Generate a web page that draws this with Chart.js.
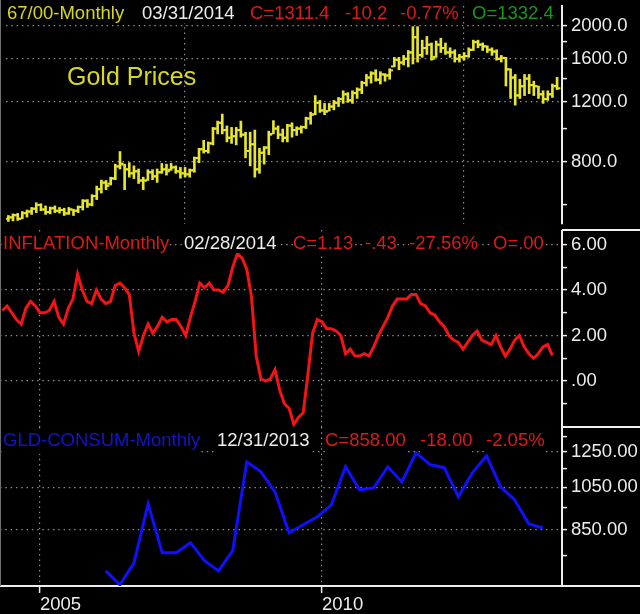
<!DOCTYPE html>
<html>
<head>
<meta charset="utf-8">
<title>Gold Prices</title>
<script src="https://cdn.jsdelivr.net/npm/chart.js@4.4.0/dist/chart.umd.min.js"></script>
<style>
  body { margin: 0; background: #000; }
  #wrap { position: relative; width: 640px; height: 614px; background: #000; overflow: hidden;
          font-family: "Liberation Sans", Arial, sans-serif; }
  canvas { position: absolute; left: 0; }
  .t { position: absolute; font-size: 18.5px; line-height: 21px; white-space: nowrap; background: #000; }
  .sep { position: absolute; background: #f0f0f0; }
</style>
</head>
<body>
<div id="wrap">
  <canvas id="gold" width="640" height="230" style="top:0px"></canvas>
  <canvas id="infl" width="640" height="197" style="top:230px"></canvas>
  <canvas id="cons" width="640" height="187" style="top:427px"></canvas>

  <div class="sep" style="left:0;top:0;width:1px;height:586px;background:#707070"></div>
  <div class="sep" style="left:562px;top:229px;width:78px;height:2px"></div>
  <div class="sep" style="left:562px;top:426px;width:78px;height:2px"></div>
  <div class="sep" style="left:562px;top:585px;width:78px;height:2px"></div>

  <span class="t" style="left:7px;top:2px;color:#d6d620">67/00-Monthly</span>
  <span class="t" style="left:142px;top:2px;color:#ececec">03/31/2014</span>
  <span class="t" style="left:250px;top:2px;color:#dd1a1a">C=1311.4</span>
  <span class="t" style="left:345px;top:2px;color:#dd1a1a">-10.2</span>
  <span class="t" style="left:400px;top:2px;color:#dd1a1a">-0.77%</span>
  <span class="t" style="left:472px;top:2px;color:#1a961a">O=1332.4</span>
  <span class="t" style="left:67px;top:62px;font-size:25px;line-height:28px;color:#d8d822;background:none">Gold Prices</span>

  <span class="t" style="left:3px;top:232px;color:#dd1a1a">INFLATION-Monthly</span>
  <span class="t" style="left:184px;top:232px;color:#ececec">02/28/2014</span>
  <span class="t" style="left:293px;top:232px;color:#dd1a1a">C=1.13</span>
  <span class="t" style="left:365px;top:232px;color:#dd1a1a">-.43</span>
  <span class="t" style="left:409px;top:232px;color:#dd1a1a">-27.56%</span>
  <span class="t" style="left:493px;top:232px;color:#dd1a1a">O=.00</span>

  <span class="t" style="left:3px;top:429px;padding-bottom:4px;color:#1414c8">GLD-CONSUM-Monthly</span>
  <span class="t" style="left:217px;top:429px;padding-bottom:4px;color:#ececec">12/31/2013</span>
  <span class="t" style="left:325px;top:429px;padding-bottom:4px;color:#dd1a1a">C=858.00</span>
  <span class="t" style="left:420px;top:429px;padding-bottom:4px;color:#dd1a1a">-18.00</span>
  <span class="t" style="left:486px;top:429px;padding-bottom:4px;color:#dd1a1a">-2.05%</span>
</div>
<script>
// months 2004-05 .. 2014-03
const goldMonths = [];
for (let y = 2004; y <= 2014; y++) {
  for (let m = 1; m <= 12; m++) {
    const label = y + '-' + String(m).padStart(2, '0');
    if (label >= '2004-05' && label <= '2014-03') goldMonths.push(label);
  }
}
const inflationMonths = goldMonths.slice(0, goldMonths.indexOf('2014-02') + 1);

const goldHigh = [
  557, 563, 565, 572, 578, 588, 607, 603,
  594, 590, 594, 588, 585, 588, 581, 594, 620, 620, 641, 679,
  707, 705, 721, 787, 857, 787, 795, 778, 762, 721, 758, 758,
  762, 791, 787, 791, 778, 770, 770, 762, 826, 876, 924, 914,
  1008, 1052, 1103, 1018, 1008, 1008, 1052, 976, 976, 990, 876, 886,
  983, 1055, 1018, 997, 1029, 1040, 1012, 1018, 1080, 1117, 1249, 1209,
  1185, 1185, 1209, 1233, 1290, 1274, 1290, 1316, 1376, 1440, 1467, 1486,
  1467, 1448, 1496, 1616, 1616, 1637, 1692, 1986, 1986, 1814, 1860, 1780,
  1803, 1838, 1780, 1723, 1700, 1648, 1669, 1723, 1814, 1814, 1780, 1746,
  1723, 1700, 1637, 1616, 1496, 1440, 1394, 1440, 1440, 1376, 1332, 1290,
  1290, 1350, 1412
];
const goldLow = [
  535, 537, 539, 545, 551, 561, 568, 575,
  561, 563, 568, 566, 557, 561, 557, 568, 578, 588, 594, 620,
  648, 663, 684, 709, 762, 663, 721, 714, 691, 663, 705, 709,
  696, 740, 731, 755, 740, 716, 721, 721, 745, 795, 848, 848,
  896, 965, 965, 914, 905, 896, 944, 821, 778, 721, 740, 787,
  839, 965, 934, 914, 914, 944, 955, 970, 1000, 1030, 1098, 1115,
  1098, 1125, 1134, 1160, 1185, 1193, 1185, 1225, 1265, 1332, 1358, 1376,
  1350, 1376, 1394, 1515, 1486, 1535, 1515, 1545, 1565, 1616, 1648, 1585,
  1616, 1669, 1648, 1616, 1565, 1565, 1585, 1616, 1692, 1723, 1692, 1669,
  1637, 1585, 1565, 1332, 1225, 1171, 1225, 1249, 1265, 1249, 1225, 1185,
  1209, 1233, 1300
];
const goldOpen = [
  545, 550, 558, 545, 566, 572, 583, 598,
  580, 570, 585, 575, 578, 565, 580, 575, 590, 615, 600, 635,
  665, 695, 690, 715, 775, 785, 760, 740, 750, 705, 705, 745,
  725, 745, 760, 758, 770, 750, 740, 735, 755, 820, 870, 860,
  905, 1000, 1040, 990, 940, 950, 990, 960, 860, 900, 760, 850,
  880, 965, 1000, 960, 940, 1020, 990, 1000, 1010, 1070, 1100, 1190,
  1130, 1125, 1160, 1190, 1220, 1260, 1210, 1270, 1300, 1360, 1410, 1450,
  1390, 1440, 1430, 1520, 1590, 1560, 1600, 1670, 1850, 1640, 1720, 1760,
  1620, 1760, 1720, 1670, 1670, 1600, 1620, 1630, 1700, 1790, 1760, 1740,
  1700, 1680, 1600, 1610, 1490, 1410, 1250, 1330, 1400, 1340, 1330, 1260,
  1220, 1260, 1332.4
];
const goldClose = [
  550, 558, 545, 566, 572, 583, 598, 580,
  570, 585, 575, 578, 565, 580, 575, 590, 615, 600, 635, 665,
  695, 680, 715, 775, 790, 760, 740, 750, 705, 705, 745, 725,
  745, 760, 750, 770, 750, 740, 735, 755, 820, 870, 860, 905,
  1000, 1040, 990, 940, 950, 990, 960, 860, 900, 760, 850, 880,
  960, 1000, 960, 940, 1020, 990, 1000, 1010, 1070, 1100, 1190, 1130,
  1120, 1160, 1190, 1220, 1260, 1210, 1270, 1300, 1360, 1410, 1450, 1390,
  1440, 1430, 1480, 1590, 1560, 1600, 1670, 1850, 1640, 1720, 1760, 1600,
  1760, 1720, 1670, 1670, 1600, 1620, 1630, 1700, 1790, 1760, 1740, 1700,
  1680, 1600, 1610, 1490, 1410, 1250, 1330, 1400, 1340, 1330, 1260, 1220,
  1260, 1330, 1311.4
];

const inflation = [
  3.1, 3.3, 3.0, 2.7, 2.5, 3.2, 3.5, 3.3,
  3.0, 3.0, 3.1, 3.5, 2.8, 2.5, 3.2, 3.6, 4.7, 4.0, 3.5, 3.4,
  4.0, 3.6, 3.4, 3.5, 4.2, 4.3, 4.1, 3.8, 2.1, 1.3, 2.0, 2.5,
  2.1, 2.4, 2.8, 2.6, 2.7, 2.7, 2.4, 2.0, 2.8, 3.5, 4.3, 4.1,
  4.3, 4.0, 4.0, 3.9, 4.2, 5.0, 5.6, 5.4, 4.9, 3.7, 1.1, 0.1,
  0.0, 0.1, 0.5, -0.4, -1.0, -1.2, -1.9, -1.6, -1.4, 0.3, 2.1, 2.7,
  2.6, 2.3, 2.3, 2.2, 2.0, 1.2, 1.4, 1.1, 1.1, 1.2, 1.1, 1.5,
  2.0, 2.4, 2.8, 3.3, 3.6, 3.6, 3.6, 3.8, 3.8, 3.4, 3.3, 3.0,
  2.9, 2.6, 2.4, 2.0, 1.8, 1.7, 1.4, 1.7, 2.0, 2.2, 1.8, 1.7,
  1.6, 2.0, 1.5, 1.1, 1.4, 1.8, 2.0, 1.5, 1.2, 1.0, 1.2, 1.5,
  1.6, 1.13
];

const consumQuarters = [
  '2006-03', '2006-06', '2006-09', '2006-12', '2007-03', '2007-06', '2007-09', '2007-12',
  '2008-03', '2008-06', '2008-09', '2008-12', '2009-03', '2009-06', '2009-09', '2009-12',
  '2010-03', '2010-06', '2010-09', '2010-12', '2011-03', '2011-06', '2011-09', '2011-12',
  '2012-03', '2012-06', '2012-09', '2012-12', '2013-03', '2013-06', '2013-09', '2013-12'
];
const consum = [
  694, 648, 722, 967, 759, 759, 798, 730,
  694, 767, 1191, 1133, 1026, 838, 872, 907,
  962, 1162, 1036, 1047, 1162, 1078, 1245, 1174,
  1157, 1002, 1128, 1227, 1052, 986, 876, 858
];

const yearTicks = ['2005', '2010'];
const goldTicks = [800, 1200, 1600, 2000];
const goldMinor = [600, 1000, 1400, 1800];
const inflTicks = [0, 2, 4, 6];
const inflMinor = [-1, 1, 3, 5];
const consumTicks = [850, 1050, 1250];
const consumMinor = [750, 950, 1150, 1350];

const FONT = '"Liberation Sans", Arial, sans-serif';
const WHITE = '#ececec';
const GRID = '#8c8c8c';
const YELLOW = '#e6e62c';
const RED = '#f51414';
const BLUE = '#1010ff';

// months counted from Jan 2005
function monthIndex(label) {
  const [y, m] = label.split('-').map(Number);
  return (y - 2005) * 12 + (m - 1);
}

const X_MIN = -8.51, X_MAX = 111.06;

function xAxis(showLabels) {
  return {
    type: 'linear', min: X_MIN, max: X_MAX, offset: false,
    afterBuildTicks: s => { s.ticks = yearTicks.map(t => ({ value: monthIndex(t + '-01') })); },
    afterFit: s => { s.height = showLabels ? 28 : 0; s.paddingLeft = 0; s.paddingRight = 0; },
    ticks: { display: showLabels, autoSkip: false, maxRotation: 0, align: 'start', padding: 1,
             color: WHITE, font: { family: FONT, size: 18.5 }, callback: (v, i) => yearTicks[i] },
    grid: { color: GRID, lineWidth: 1.2, drawTicks: showLabels, tickLength: 7, tickColor: WHITE,
            tickWidth: 1.5, tickBorderDash: [] },
    border: { display: showLabels, color: WHITE, width: 2, dash: [1.5, 3.8] }
  };
}

function yAxis(type, min, max, major, minor, fmt) {
  return {
    type, position: 'right', min, max, bounds: 'data',
    afterBuildTicks: s => {
      s.ticks = major.concat(minor).sort((a, b) => a - b).map(v => ({ value: v }));
    },
    afterFit: s => { s.width = 78; s.paddingTop = 0; s.paddingBottom = 0; },
    ticks: { autoSkip: false, padding: 4, color: WHITE, font: { family: FONT, size: 18.5 },
             callback: v => major.includes(v) ? fmt(v) : '' },
    grid: { color: c => (c.tick && major.includes(c.tick.value)) ? GRID : 'rgba(0,0,0,0)',
            lineWidth: 1.2, tickLength: 5, tickColor: WHITE, tickWidth: 1.5, tickBorderDash: [] },
    border: { color: WHITE, width: 2, dash: [1.5, 3.8] }
  };
}

const common = {
  responsive: false, animation: false, events: [],
  layout: { padding: 0 },
  plugins: { legend: { display: false }, tooltip: { enabled: false } }
};

new Chart(document.getElementById('gold'), {
  type: 'bar',
  data: {
    datasets: [
      { type: 'bar',
        data: goldMonths.map((mo, i) => ({ x: monthIndex(mo), y: [goldLow[i], goldHigh[i]] })),
        backgroundColor: YELLOW, borderWidth: 0, barThickness: 2 },
      { type: 'scatter',
        data: goldMonths.map((mo, i) => ({ x: monthIndex(mo) - 0.45, y: goldOpen[i] })),
        pointStyle: 'line', pointRadius: 1.2, pointBorderColor: YELLOW, pointBorderWidth: 2 },
      { type: 'scatter',
        data: goldMonths.map((mo, i) => ({ x: monthIndex(mo) + 0.45, y: goldClose[i] })),
        pointStyle: 'line', pointRadius: 1.2, pointBorderColor: YELLOW, pointBorderWidth: 2 }
    ]
  },
  options: Object.assign({}, common, {
    scales: {
      x: xAxis(false),
      y: yAxis('logarithmic', 526, 2283, goldTicks, goldMinor, v => v.toFixed(1))
    }
  })
});

new Chart(document.getElementById('infl'), {
  type: 'line',
  data: {
    datasets: [{
      data: inflationMonths.map((mo, i) => ({ x: monthIndex(mo), y: inflation[i] })),
      borderColor: RED, borderWidth: 3, pointRadius: 0, tension: 0, fill: false
    }]
  },
  options: Object.assign({}, common, {
    scales: {
      x: xAxis(false),
      y: yAxis('linear', -2.02, 6.637, inflTicks, inflMinor, v => v.toFixed(2).replace(/^0/, ''))
    }
  })
});

new Chart(document.getElementById('cons'), {
  type: 'line',
  data: {
    datasets: [{
      data: consumQuarters.map((q, i) => ({ x: monthIndex(q), y: consum[i] })),
      borderColor: BLUE, borderWidth: 3, pointRadius: 0, tension: 0, fill: false
    }]
  },
  options: Object.assign({}, common, {
    scales: {
      x: xAxis(true),
      y: yAxis('logarithmic', 644, 1415, consumTicks, consumMinor, v => v.toFixed(2))
    }
  })
});
</script>
</body>
</html>
